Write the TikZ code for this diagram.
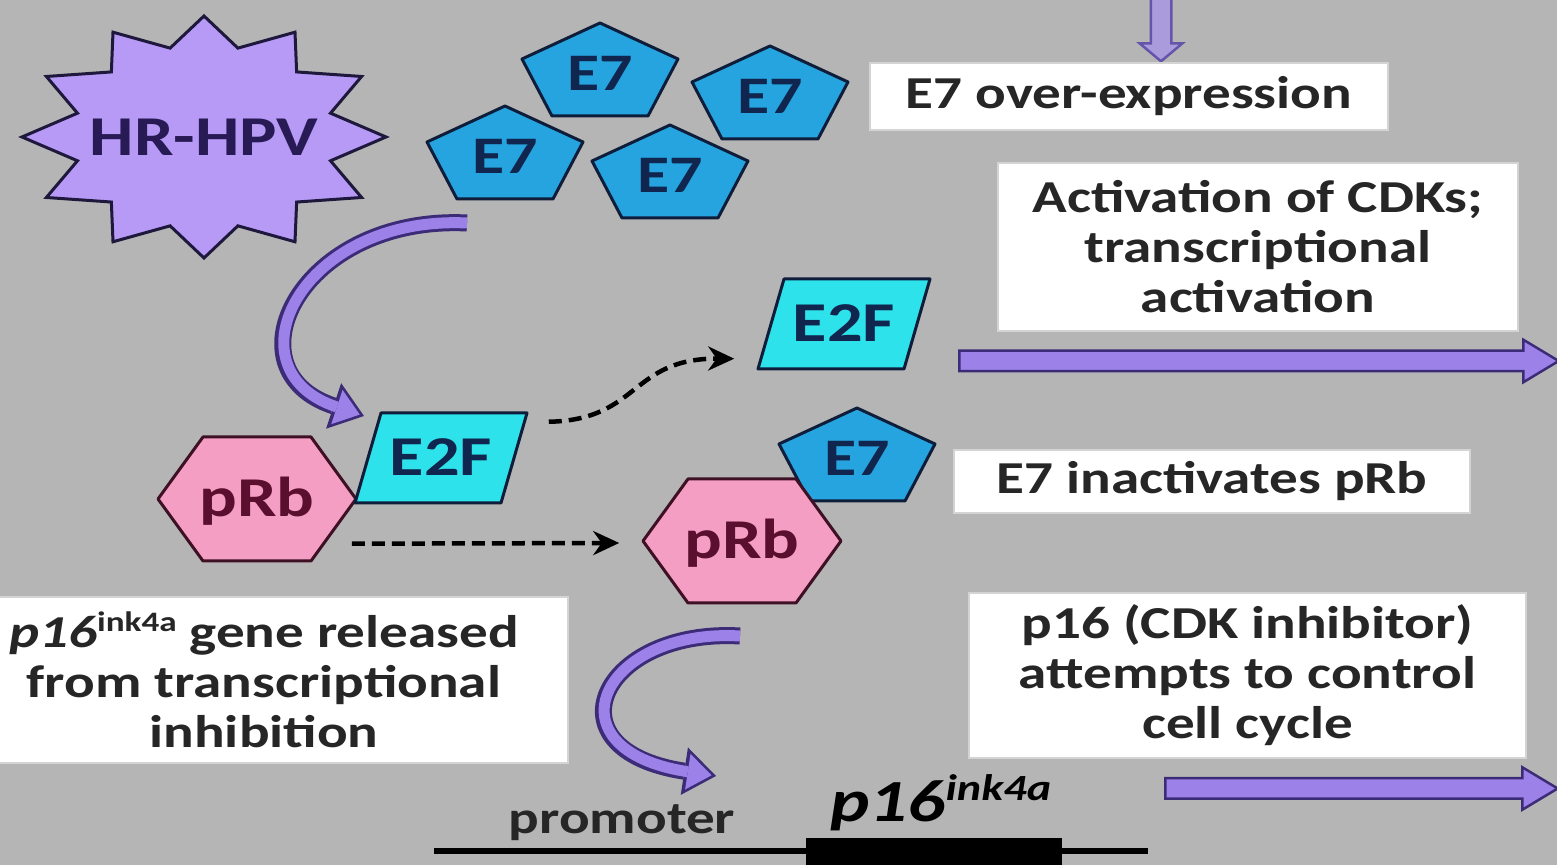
\documentclass[tikz,border=0pt]{standalone}
\usepackage{fontspec}
\setmainfont{Carlito}[FakeStretch=1.25]
\usetikzlibrary{arrows.meta,shapes.arrows,positioning}
\definecolor{bggray}{RGB}{181,181,181}
\definecolor{starfill}{RGB}{182,154,245}
\definecolor{starline}{RGB}{30,24,60}
\definecolor{startxt}{RGB}{40,26,85}
\definecolor{esevfill}{RGB}{38,164,224}
\definecolor{efffill}{RGB}{46,226,236}
\definecolor{shapeline}{RGB}{14,30,58}
\definecolor{shapetext}{RGB}{16,38,78}
\definecolor{prbfill}{RGB}{245,158,196}
\definecolor{prbline}{RGB}{62,16,36}
\definecolor{prbtext}{RGB}{90,15,46}
\definecolor{arrfill}{RGB}{156,130,232}
\definecolor{arrline}{RGB}{60,44,120}
\definecolor{arrpale}{RGB}{170,156,220}
\definecolor{arrmid}{RGB}{100,84,170}
\definecolor{boxline}{RGB}{212,212,212}
\definecolor{txtgray}{RGB}{38,38,38}
\tikzset{
  shapetxt/.style={inner sep=0pt, font=\fontsize{15}{15}\selectfont\bfseries,
    text height=9.7pt, text depth=0pt},
  esevshape/.style={fill=esevfill, draw=shapeline, line width=0.03cm, line join=round},
  effshape/.style={fill=efffill, draw=shapeline, line width=0.03cm, line join=round},
  prbshape/.style={fill=prbfill, draw=prbline, line width=0.03cm, line join=round},
  hpvstar/.style={fill=starfill, draw=starline, line width=0.03cm, line join=miter},
  txtbox/.style={draw=boxline, line width=0.02cm, fill=white, text=txtgray,
    font=\fontsize{13}{14.2}\selectfont\bfseries, align=center},
  fatarrow/.style={single arrow, fill=arrfill, draw=arrline, line width=0.025cm,
    minimum width=0.4cm, single arrow head extend=0.11cm,
    single arrow tip angle=62, inner xsep=0pt, inner ysep=0.09cm},
  bandout/.style={draw=arrline, line width=0.17cm,
    -{Triangle[length=0.32cm,width=0.48cm,line width=0pt]}},
  bandin/.style={draw=arrfill, line width=0.11cm, shorten >=0.045cm,
    -{Triangle[length=0.24cm,width=0.36cm,line width=0pt]}},
  dasharr/.style={draw=black, line width=0.045cm, dash pattern=on 0.13cm off 0.07cm,
    -{Stealth[length=0.26cm,width=0.24cm]}}
}
\newcommand{\inkfa}[2]{\raisebox{#1}{\fontsize{#2}{#2}\selectfont ink4a}}
% pentagon, hexagon and parallelogram drawn round a named text node
\newcommand{\esevnode}[3]{%
  \draw[esevshape] (#2-78,#3-11) -- (#2,#3-47) -- (#2+78,#3-11) -- (#2+48,#3+46) -- (#2-48,#3+46) -- cycle;
  \node[shapetxt, text=shapetext] (#1) at (#2,#3+3) {E7};}
\newcommand{\prbnode}[3]{%
  \draw[prbshape] (#2-99,#3) -- (#2-54,#3-62) -- (#2+54,#3-62) -- (#2+99,#3) -- (#2+54,#3+62) -- (#2-54,#3+62) -- cycle;
  \node[shapetxt, text=prbtext, font=\fontsize{16}{16}\selectfont\bfseries,
    minimum width=1.98cm, minimum height=1.24cm] (#1) at (#2,#3) {pRb};}
\newcommand{\effnode}[3]{%
  \draw[effshape] (#2-60,#3-45) -- (#2+86,#3-45) -- (#2+60,#3+45) -- (#2-86,#3+45) -- cycle;
  \node[shapetxt, text=shapetext, font=\fontsize{16}{16}\selectfont\bfseries,
    minimum width=1.72cm, minimum height=0.9cm] (#1) at (#2,#3) {E2F};}

\begin{document}
\begin{tikzpicture}[x=0.01cm, y=-0.01cm]
\useasboundingbox (0,0) rectangle (1557,865);
\clip (0,0) rectangle (1557,865);
\fill[bggray] (0,0) rectangle (1557,865);

% arrow coming in from above
\node[fatarrow, rotate=-90, minimum height=0.64cm, single arrow tip angle=100,
  fill=arrpale, draw=arrmid] (inar) at (1161,25) {};

% virus
\draw[hpvstar, shift={(204,137)}] (0:182 and 121)
  \foreach \a [evaluate=\a as \b using \a-15] in {30,60,...,360} {
    -- (\b:131 and 92) -- (\a:182 and 121) } -- cycle;
\node[shapetxt, text=startxt, font=\fontsize{16}{16}\selectfont\bfseries,
  text height=10.3pt] (hpv) at (204,137) {HR-HPV};

% free E7
\esevnode{esa}{600}{70}
\esevnode{esb}{770}{93}
\esevnode{esc}{505}{153}
\esevnode{esd}{670}{172}

% text boxes
\node[txtbox, minimum width=5.18cm, minimum height=0.67cm] (over) at (1129,96.5) {E7 over-expression};
\node[txtbox, minimum width=5.20cm, minimum height=1.68cm] (cdk) at (1258,247) {Activation of CDKs;\\transcriptional\\activation};
\node[txtbox, minimum width=5.16cm, minimum height=0.63cm] (inact) at (1212,481.5) {E7 inactivates pRb};
\node[txtbox, minimum width=5.57cm, minimum height=1.65cm] (ctrl) at (1247.5,675.5) {p16 (CDK inhibitor)\\attempts to control\\cell cycle};
\node[txtbox, minimum width=6.08cm, minimum height=1.66cm] (rel) at (264,680) {\textit{p16}\inkfa{4.5pt}{8}\ gene released\\from transcriptional\\inhibition};

% curved arrows
\coordinate (bendas) at (467,223);
\coordinate (bendae) at (364,416);
\coordinate (bendbs) at (740,636);
\coordinate (bendbe) at (716,776);
\draw[bandout] (bendas) .. controls (300,215) and (225,370) .. (bendae);
\draw[bandin] (bendas) .. controls (300,215) and (225,370) .. (bendae);
\draw[bandout] (bendbs) .. controls (600,628) and (545,750) .. (bendbe);
\draw[bandin] (bendbs) .. controls (600,628) and (545,750) .. (bendbe);

% pRb / E2F complex
\prbnode{prba}{257}{499}
\effnode{effb}{441}{458}
\effnode{effa}{844}{324}
\esevnode{ese}{857}{455}
\prbnode{prbb}{742}{541}

% dashed arrows
\draw[dasharr] ([xshift=0.21cm,yshift=-0.095cm]effb.north east) .. controls (640,420) and (630,358) .. ([xshift=-0.23cm,yshift=0.11cm]effa.south west);
\draw[dasharr] ([xshift=-0.05cm,yshift=0.18cm]prba.south east) -- ([xshift=-0.23cm,yshift=-0.02cm]prbb.west);

% outgoing arrows
\node[fatarrow, minimum height=5.99cm] (actar) at (1250.5,361) {};
\node[fatarrow, minimum height=3.92cm] (ctrlar) at (1353,788.5) {};

% gene
\coordinate (dnal) at (434,851);
\coordinate (dnar) at (1148,851);
\draw[line width=0.055cm] (dnal) -- (dnar);
\node[fill=black, minimum width=2.56cm, minimum height=0.27cm, inner sep=0pt] (gene) at (934,852) {};
\node[text=txtgray, font=\fontsize{13}{13}\selectfont\bfseries] (prom) at (622,823) {promoter};
\node[font=\fontsize{17}{17}\selectfont\bfseries\itshape, anchor=base west] (pgene) at (818,822) {p16\inkfa{6pt}{10.5}};
\end{tikzpicture}
\end{document}
